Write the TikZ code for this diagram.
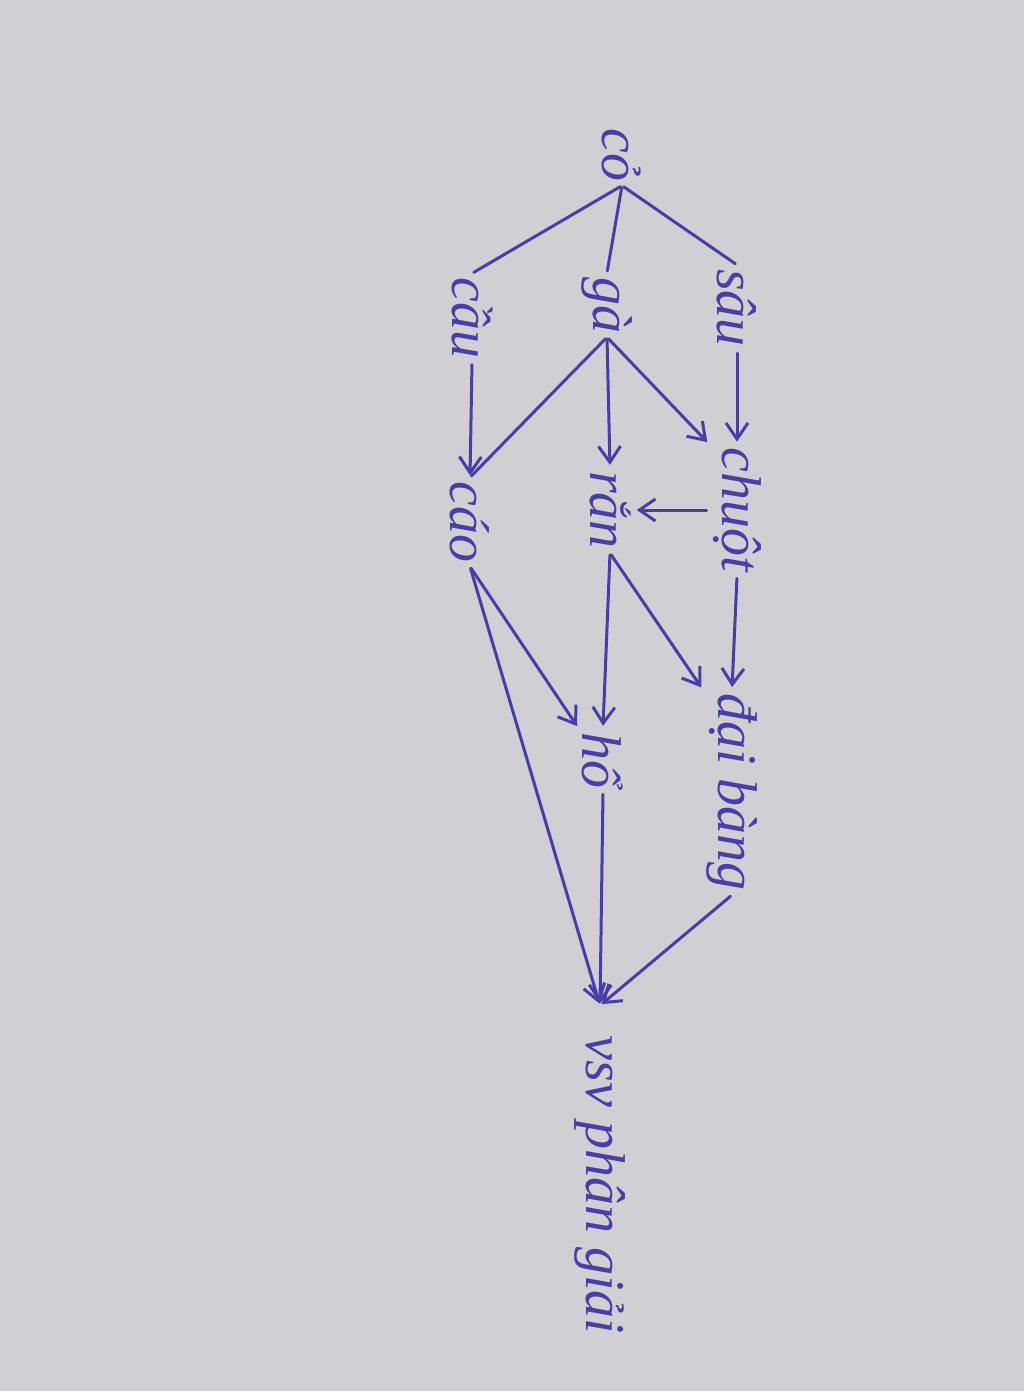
\documentclass[tikz,border=0pt]{standalone}
\usepackage{fontspec}
\setmainfont{Liberation Serif}
\usetikzlibrary{arrows.meta}
\definecolor{ink}{RGB}{72,62,168}
\definecolor{paper}{RGB}{208,208,212}
\begin{document}
\begin{tikzpicture}[x=1pt,y=-1pt,
  lbl/.style={text=ink, rotate=-90, font=\fontsize{56}{60}\selectfont\itshape, inner sep=4pt},
  ln/.style={draw=ink, line width=3pt, line cap=round, line join=round, shorten >=2pt, shorten <=2pt},
  arr/.style={ln, -{Straight Barb[length=16pt,width=22pt,line width=3pt]}}]
\fill[paper] (0,0) rectangle (1024,1391);
\useasboundingbox (0,0) rectangle (1024,1391);
\node[lbl] (co) at (622,155) {cỏ};
\node[lbl] (sau) at (737,308) {sâu};
\node[lbl] (ga) at (607,305) {gà};
\node[lbl] (cau) at (472,318) {cầu};
\node[lbl] (chuot) at (737,510) {chuột};
\node[lbl] (ran) at (610,510) {rắn};
\node[lbl] (cao) at (470,522) {cáo};
\node[lbl] (daibang) at (732,792) {đại bàng};
\node[lbl] (ho) at (603,760) {hổ};
\node[lbl, inner xsep=30pt] (vsv) at (600,1185) {vsv phân giải};
\draw[ln] (co.east) -- (sau.west);
\draw[ln] (co.east) -- (ga.west);
\draw[ln] (co.east) -- (cau.west);
\draw[arr] (sau.east) -- (chuot.west);
\draw[arr] (ga.east) -- (chuot.south west);
\draw[arr] (ga.east) -- (ran.west);
\draw[ln] (ga.east) -- (cao.west);
\draw[arr] (cau.east) -- (cao.west);
\draw[arr] (chuot.south) -- (ran.north);
\draw[arr] (chuot.east) -- (daibang.west);
\draw[arr] (ran.east) -- (daibang.south west);
\draw[arr] (ran.east) -- (ho.west);
\draw[arr] (cao.east) -- (ho.south west);
\draw[arr] (cao.east) -- (vsv.west);
\draw[arr] (ho.east) -- (vsv.west);
\draw[arr] (daibang.east) -- (vsv.west);
\end{tikzpicture}
\end{document}
